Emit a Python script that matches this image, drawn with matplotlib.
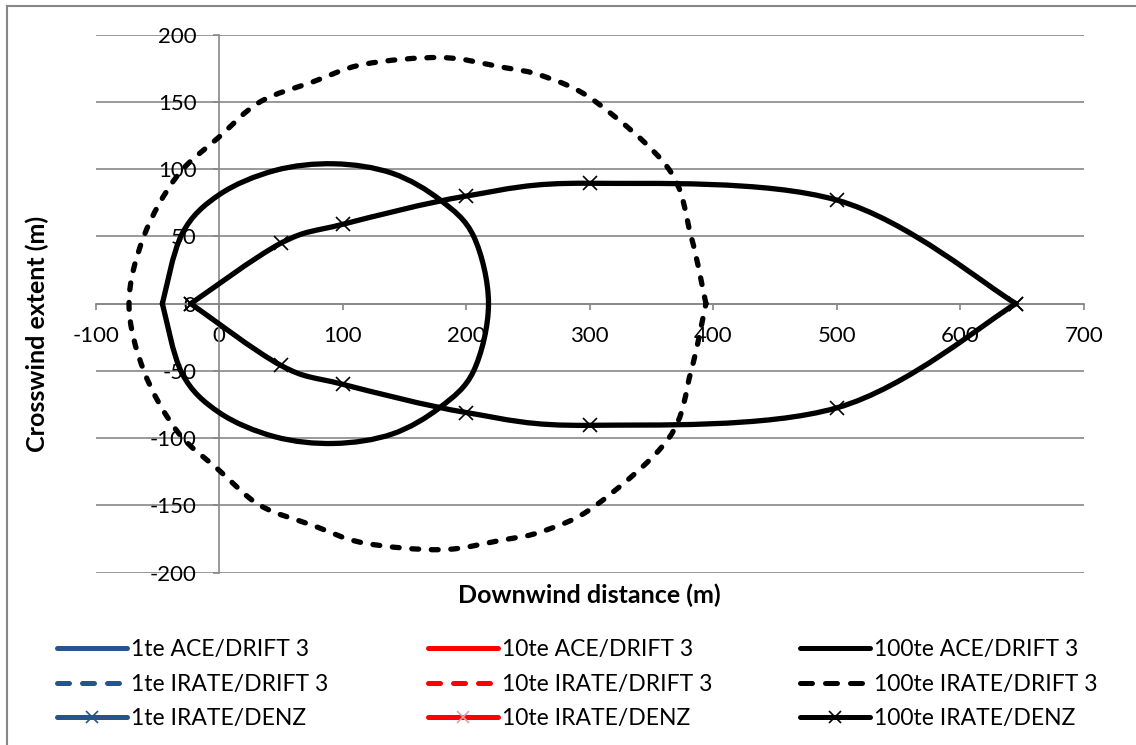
import matplotlib
matplotlib.use("Agg")
import numpy as np
import matplotlib.pyplot as plt
from matplotlib.path import Path
from matplotlib.patches import PathPatch
from matplotlib.lines import Line2D

plt.rcParams['font.family'] = ['Lato', 'DejaVu Sans']
plt.rcParams['axes.unicode_minus'] = False

# 100te ACE/DRIFT 3 contour (starts and ends at the upwind tip)
ace_x = [-46, -30, 0, 45, 93, 140, 179, 206, 218, 206, 179, 140, 93, 45, 0, -30, -46]
ace_y = [0, 52, 81, 99, 104, 97, 77, 50, 0, -50, -77, -97, -104, -99, -81, -52, 0]

# 100te IRATE/DRIFT 3 contour (starts and ends at the downwind tip)
irate_x = [394, 382, 364, 305, 263, 228, 180, 117, 76, 33, 0, -34, -61, -73,
           -61, -34, 0, 33, 76, 117, 180, 228, 263, 305, 364, 382, 394]
irate_y = [0, 50, 100, 150, 169, 176, 183, 178, 165, 150, 124, 95, 50, 0,
           -50, -95, -124, -150, -165, -178, -183, -176, -169, -150, -100, -50, 0]

# 100te IRATE/DENZ, upper and lower edges
denz_x = [-23, 50, 100, 200, 300, 500, 645]
denz_upper = [0, 45, 59, 80, 89.5, 77, 0]
denz_lower = [0, -46, -60, -81, -90.5, -77.5, 0]

# series without data in this run
empty = []

blue = '#26558B'
red = '#FF0000'
pink = '#E8A0A0'
grey = '#878787'

x_ticks = list(range(-100, 701, 100))
y_ticks = list(range(-200, 201, 50))

LW = 3.8


def smooth_path(xs, ys):
    # Bezier curve through the points, like a "smoothed line" chart
    pts = np.column_stack([xs, ys]).astype(float)
    n = len(pts)
    verts = [pts[0]]
    codes = [Path.MOVETO]
    for i in range(n - 1):
        p0 = pts[i - 1] if i > 0 else pts[i]
        p1 = pts[i]
        p2 = pts[i + 1]
        p3 = pts[i + 2] if i + 2 < n else pts[i + 1]
        verts += [p1 + (p2 - p0) / 6, p2 - (p3 - p1) / 6, p2]
        codes += [Path.CURVE4] * 3
    return Path(verts, codes)


def draw_curve(ax, xs, ys, color, ls='solid', marker=None, mcolor=None):
    if len(xs) < 2:
        return
    patch = PathPatch(smooth_path(xs, ys), fill=False, edgecolor=color, lw=LW,
                      linestyle=ls, capstyle='round', joinstyle='round', zorder=3)
    ax.add_patch(patch)
    if marker:
        ax.plot(xs, ys, ls='none', marker=marker, ms=9.5, mew=1.2,
                color=mcolor or color, zorder=4)


fig = plt.figure(figsize=(11.36, 7.45), dpi=100)
ax = fig.add_axes([0.0842, 0.2315, 0.870, 0.7219])

dash_plot = (0, (1.3, 2.4))
draw_curve(ax, empty, empty, blue)
draw_curve(ax, empty, empty, red)
draw_curve(ax, ace_x, ace_y, 'black')
draw_curve(ax, irate_x, irate_y, 'black', ls=dash_plot)
draw_curve(ax, denz_x, denz_upper, 'black', marker='x')
draw_curve(ax, denz_x, denz_lower, 'black', marker='x')

ax.set_xlim(-100, 700)
ax.set_ylim(-200, 200)
ax.set_xticks(x_ticks)
ax.set_yticks(y_ticks)
ax.spines['left'].set_position(('data', 0))
ax.spines['bottom'].set_position(('data', 0))
ax.spines['top'].set_visible(False)
ax.spines['right'].set_visible(False)
for s in ('left', 'bottom'):
    ax.spines[s].set_color(grey)
    ax.spines[s].set_linewidth(1.2)
ax.set_axisbelow(True)
ax.yaxis.grid(True, color=grey, lw=1.2)
ax.tick_params(axis='both', direction='out', length=4.3, width=1.2, color=grey,
               labelsize=16, labelcolor='black')
ax.tick_params(axis='x', pad=12)
ax.tick_params(axis='y', pad=12)
ax.set_facecolor('none')

fig.text(589 / 1136, 1 - 595 / 745, 'Downwind distance (m)', ha='center', va='center',
         fontsize=18, fontweight='bold')
fig.text(37 / 1136, 1 - 334 / 745, 'Crosswind extent (m)', ha='center', va='center',
         fontsize=18, fontweight='bold', rotation=90)

# chart area border
fig.add_artist(Line2D([6.5 / 1136, 6.5 / 1136], [0, 1 - 5.5 / 745], color=grey,
                      lw=1.5, transform=fig.transFigure))
fig.add_artist(Line2D([6.5 / 1136, 1], [1 - 5.5 / 745, 1 - 5.5 / 745], color=grey,
                      lw=1.5, transform=fig.transFigure))

# legend, one block per column
dash_leg = (0, (2.4, 2.6))


def handle(color, ls='solid', marker=None, mcolor=None):
    return Line2D([], [], color=color, lw=3.6, ls=ls, solid_capstyle='round',
                  dash_capstyle='round', marker=marker, ms=9, mew=1.2,
                  mec=mcolor or color)


columns = [
    ([handle(blue), handle(blue, dash_leg), handle(blue, marker='x')],
     ['1te ACE/DRIFT 3', '1te IRATE/DRIFT 3', '1te IRATE/DENZ'], 57),
    ([handle(red), handle(red, dash_leg), handle(red, marker='x', mcolor=pink)],
     ['10te ACE/DRIFT 3', '10te IRATE/DRIFT 3', '10te IRATE/DENZ'], 428),
    ([handle('black'), handle('black', dash_leg), handle('black', marker='x')],
     ['100te ACE/DRIFT 3', '100te IRATE/DRIFT 3', '100te IRATE/DENZ'], 800),
]
for hs, labels, xpix in columns:
    fig.legend(hs, labels, loc='upper left',
               bbox_to_anchor=(xpix / 1136, 1 - 639 / 745),
               frameon=False, fontsize=16.5, borderpad=0, borderaxespad=0,
               handlelength=3.06, handletextpad=0.17, labelspacing=0.6)

fig.savefig('out.png', dpi=100)
